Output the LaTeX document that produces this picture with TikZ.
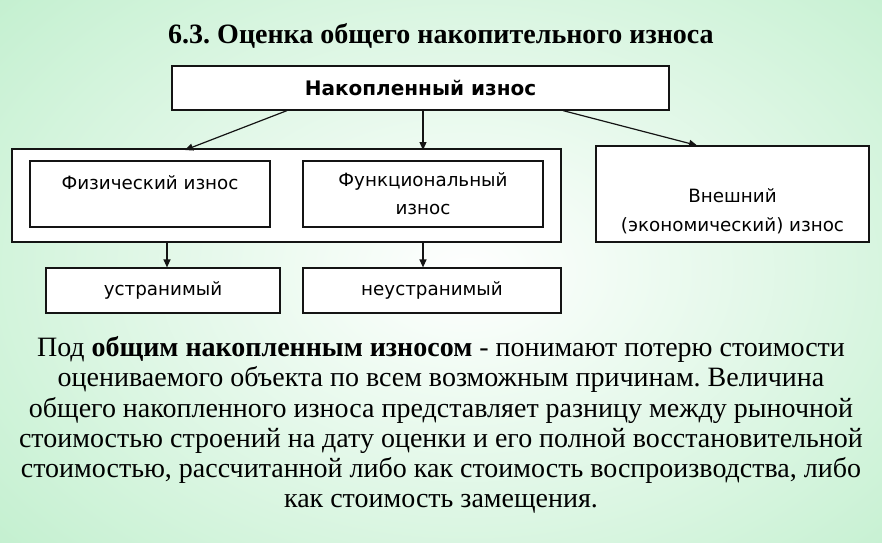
\documentclass[tikz,border=0pt]{standalone}
\usepackage{fontspec}
\setmainfont{Liberation Serif}
\newfontfamily\boxfont{DejaVu Sans}
\usetikzlibrary{arrows.meta,calc}
\definecolor{bggreen}{RGB}{196,240,208}
\definecolor{linecol}{RGB}{20,20,20}
\frenchspacing
\begin{document}
\begin{tikzpicture}[x=1pt,y=-1pt,
  box/.style={draw=linecol,line width=1.2pt,fill=white,rectangle,inner sep=0pt},
  boxtext/.style={font=\boxfont\fontsize{18.3}{28}\selectfont,align=center,inner sep=0pt,text=black},
  conn/.style={draw=linecol,line width=1.2pt,-{Triangle[width=7pt,length=8pt]}}]
\useasboundingbox (0,0) rectangle (882,542);
\shade[inner color=white,outer color=bggreen] (-150,-150) rectangle (1082,692);
% title
\node[font=\bfseries\fontsize{28}{30}\selectfont,inner sep=0pt] (title) at (441,36) {6.3. Оценка общего накопительного износа};
% top box
\node[box,minimum width=497pt,minimum height=44pt,font=\boxfont\bfseries\fontsize{20}{22}\selectfont] (top) at (420.5,88) {Накопленный износ};
% group box
\node[box,line width=2pt,minimum width=549pt,minimum height=93pt] (group) at (286.5,195.5) {};
\node[box,minimum width=240pt,minimum height=66pt] (phys) at (150,194) {};
\node[boxtext] (physt) at (150,183) {Физический износ};
\node[box,minimum width=240pt,minimum height=66pt,boxtext,draw=linecol,fill=white,line width=1.2pt] (func) at (423,194) {Функциональный\\износ};
\node[box,minimum width=273pt,minimum height=96pt] (ext) at (732.5,194) {};
\node[boxtext,font=\boxfont\fontsize{18.3}{29}\selectfont] (extt) at (732.5,211.5) {Внешний\\(экономический) износ};
\node[box,boxtext,draw=linecol,fill=white,line width=1.2pt,minimum width=234pt,minimum height=45pt] (ust) at (163,290.5) {устранимый};
\node[box,boxtext,draw=linecol,fill=white,line width=1.2pt,minimum width=258pt,minimum height=45pt] (neust) at (432,290.5) {неустранимый};
\coordinate (ustin) at ([xshift=4pt]ust.north);
\coordinate (extin) at ([xshift=-35.5pt]ext.north);
% connectors
\draw[conn] ([xshift=-133.5pt]top.south) -- ([xshift=-101.5pt,yshift=-2pt]group.north);
\draw[conn] (top.south -| func.north) -- ([yshift=-2pt]group.north -| func.north);
\draw[conn] ([xshift=142.5pt]top.south) -- (extin);
\draw[conn] (group.south -| ustin) -- (ustin);
\draw[conn] (group.south -| func.south) -- (neust.north -| func.south);
% paragraph
\node[font=\fontsize{28}{30.2}\selectfont,align=center,inner sep=0pt] (para) at (441,425) {Под \textbf{общим накопленным износом} - понимают потерю стоимости\\
оцениваемого объекта по всем возможным причинам. Величина\\
общего накопленного износа представляет разницу между рыночной\\
стоимостью строений на дату оценки и его полной восстановительной\\
стоимостью, рассчитанной либо как стоимость воспроизводства, либо\\
как стоимость замещения.};
\end{tikzpicture}
\end{document}
